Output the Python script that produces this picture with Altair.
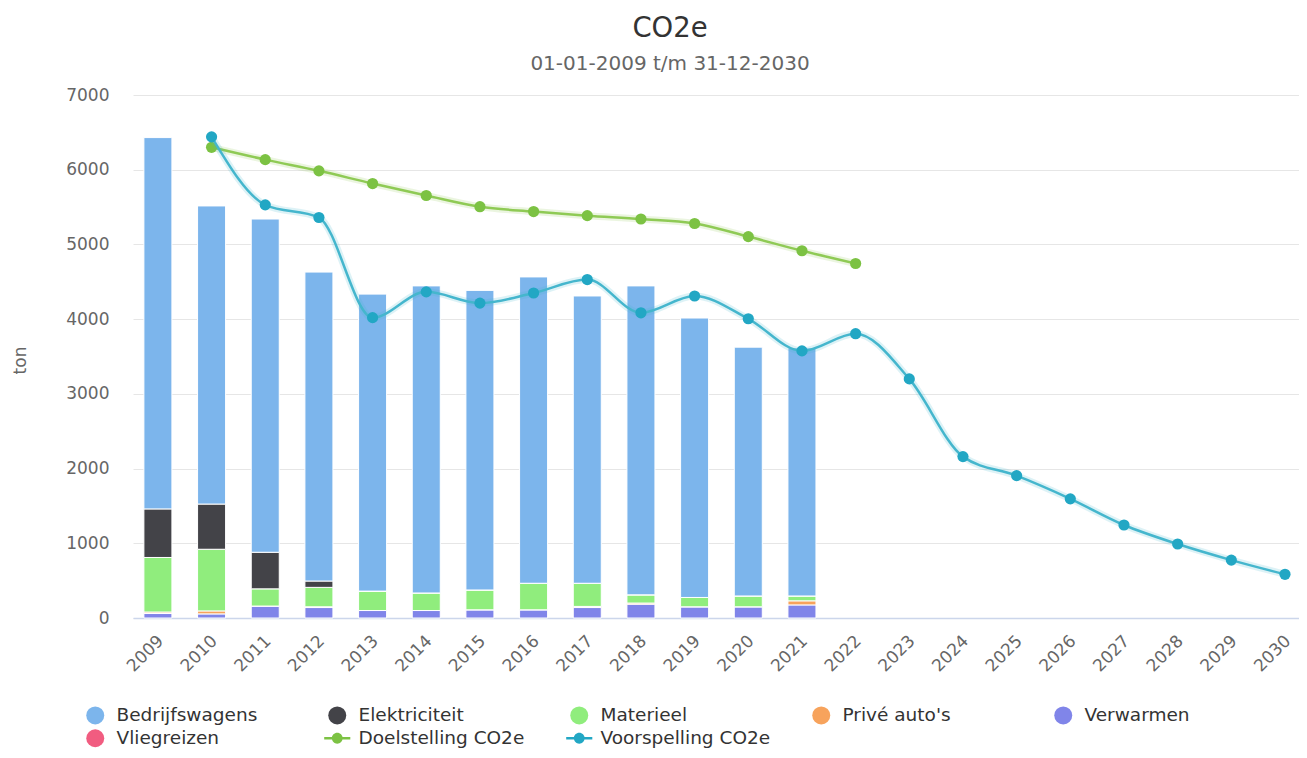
import altair as alt
import pandas as pd

FONT = "DejaVu Sans"

years = [str(y) for y in range(2009, 2031)]
bar_years = [str(y) for y in range(2009, 2022)]

series_names = ["Bedrijfswagens", "Elektriciteit", "Materieel", "Privé auto's",
                "Verwarmen", "Vliegreizen", "Doelstelling CO2e", "Voorspelling CO2e"]
series_colors = ["#7cb5ec", "#434348", "#90ed7d", "#f7a35c",
                 "#8085e9", "#f15c80", "#7cc243", "#22a7c4"]

bedrijfswagens = [4970, 3990, 4460, 4135, 3975, 4110, 4010, 4100, 3845, 4135, 3740, 3330, 3320]
elektriciteit = [650, 605, 490, 85, 0, 0, 0, 0, 0, 0, 0, 0, 0]
materieel = [730, 825, 230, 260, 260, 235, 265, 355, 310, 110, 125, 145, 65]
prive_autos = [20, 40, 0, 10, 0, 0, 0, 0, 15, 15, 0, 0, 55]
verwarmen = [60, 55, 160, 140, 100, 100, 110, 110, 140, 185, 150, 150, 175]

doel_years = [str(y) for y in range(2010, 2023)]
doelstelling = [6300, 6135, 5985, 5815, 5655, 5505, 5440, 5385, 5340, 5280, 5105, 4915, 4745]

voor_years = [str(y) for y in range(2010, 2031)]
voorspelling = [6440, 5530, 5360, 4020, 4365, 4215, 4350, 4530, 4085, 4310, 4005, 3575,
                3805, 3200, 2160, 1905, 1595, 1245, 990, 775, 585]

stack = [("Verwarmen", verwarmen), ("Privé auto's", prive_autos), ("Materieel", materieel),
         ("Elektriciteit", elektriciteit), ("Bedrijfswagens", bedrijfswagens)]
rows = []
for order, (name, vals) in enumerate(stack):
    for y, v in zip(bar_years, vals):
        rows.append({"year": y, "series": name, "value": v, "order": order})
bar_df = pd.DataFrame(rows)

doel_df = pd.DataFrame({"year": doel_years, "value": doelstelling})
voor_df = pd.DataFrame({"year": voor_years, "value": voorspelling})

x_scale = alt.Scale(domain=years, paddingInner=0.478, paddingOuter=0.1015, align=1)
y_scale = alt.Scale(domain=[0, 7000])

x_axis = alt.Axis(title=None, labelAngle=-45, labelAlign="right", labelBaseline="middle",
                  labelFontSize=17, labelColor="#666666", labelFont=FONT, labelPadding=20,
                  labelOffset=3, ticks=False, domainColor="#ccd6eb", domainWidth=1.5,
                  grid=False)
y_axis = alt.Axis(title="ton", values=list(range(0, 7001, 1000)), format="d",
                  labelFontSize=17, labelColor="#666666", labelFont=FONT, labelPadding=24,
                  ticks=False, domain=False, gridColor="#e6e6e6", titleFont=FONT,
                  titleFontSize=17, titleFontWeight="normal", titleColor="#666666",
                  titleX=-113, titleY=265, titleAngle=-90, titleAlign="center",
                  titleBaseline="middle")

line_names = "['Doelstelling CO2e','Voorspelling CO2e']"
line_path = ("M-1.45,-0.15H1.45V0.15H-1.45Z"
             "M0.6,0A0.6,0.6,0,1,1,-0.6,0A0.6,0.6,0,1,1,0.6,0Z")

legend = alt.Legend(
    title=None, orient="none", legendX=-47, legendY=611, direction="horizontal",
    columns=5, gridAlign="all", columnPadding=37, rowPadding=4, padding=0,
    symbolSize=324, symbolStrokeWidth=0,
    symbolType=alt.ExprRef(expr=f"indexof({line_names}, datum.value) >= 0 ? '{line_path}' : 'circle'"),
    labelFontSize=18.5, labelFont=FONT, labelColor="#333333", labelOffset=12, labelLimit=400,
)

bars = alt.Chart(bar_df).mark_bar(stroke="white").encode(
    x=alt.X("year:O", scale=x_scale, axis=x_axis),
    y=alt.Y("value:Q", scale=y_scale, axis=y_axis, stack="zero"),
    color=alt.Color("series:N", scale=alt.Scale(domain=series_names, range=series_colors),
                    legend=legend),
    order=alt.Order("order:Q"),
)

def line_layers(df, line_color, point_color):
    base = alt.Chart(df).encode(
        x=alt.X("year:O", scale=x_scale),
        y=alt.Y("value:Q", scale=y_scale),
    )
    halo = base.mark_line(interpolate="monotone", strokeWidth=7, opacity=0.18,
                          color=line_color)
    line = base.mark_line(interpolate="monotone", strokeWidth=2.5, color=line_color)
    pts = base.mark_point(filled=True, size=125, opacity=1, color=point_color)
    return [halo, line, pts]

layers = [bars] + line_layers(doel_df, "#8fca55", "#7cc243") + \
    line_layers(voor_df, "#45b6cd", "#22a7c4")

chart = alt.layer(*layers).properties(
    width=1166, height=523,
    title=alt.TitleParams(text="CO2e", subtitle="01-01-2009 t/m 31-12-2030",
                          anchor="middle", dx=-46, dy=1, fontSize=27.5, fontWeight="normal",
                          font=FONT, color="#333333", subtitleFont=FONT,
                          subtitleFontSize=20, subtitleColor="#666666",
                          offset=13, subtitlePadding=12),
    autosize=alt.AutoSizeParams(type="none"),
    padding={"left": 125, "top": 87, "right": 0, "bottom": 132},
    background="white",
).configure_view(stroke=None)

chart.save("out.html", embed_options={"renderer": "svg", "actions": False})
